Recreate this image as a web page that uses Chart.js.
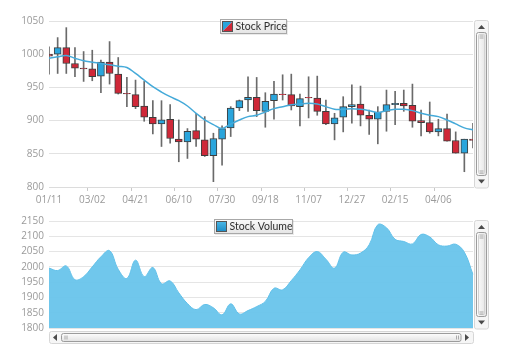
<!DOCTYPE html>
<html><head><meta charset="utf-8">
<script src="https://cdn.jsdelivr.net/npm/chart.js@4.4.0/dist/chart.umd.min.js"></script>
<style>
html,body{margin:0;padding:0;background:#fff;overflow:hidden;width:507px;height:355px}
#c1{position:absolute;left:0;top:0}
#c2{position:absolute;left:0;top:200px}
</style></head><body>
<canvas id="c1" width="507" height="210"></canvas>
<canvas id="c2" width="507" height="155"></canvas>
<script>
// ---- data ----
const dates = ['01/11','01/21','01/31','02/10','02/20','03/02','03/12','03/22','04/01','04/11',
  '04/21','05/01','05/11','05/21','05/31','06/10','06/20','06/30','07/10','07/20',
  '07/30','08/09','08/19','08/29','09/08','09/18','09/28','10/08','10/18','10/28',
  '11/07','11/17','11/27','12/07','12/17','12/27','01/06','01/16','01/26','02/05',
  '02/15','02/25','03/07','03/17','03/27','04/06','04/16','04/26','05/06','05/16'];
const openP  = [1000,1000,1010,986,979,978,967,988,970,941, 939,922,905,895,902,872,868,885,871,847,
  872,889,919,931,935,914,930,940,939,921, 935,934,914,895,905,921,925,908,902,914,
  924,926,923,900,897,883,888,870,851,872];
const closeP = [997,1010,986,979,978,966,988,971,941,940, 921,905,895,901,873,868,884,872,847,873,
  888,919,930,935,915,929,940,939,922,933, 934,914,895,904,921,924,908,902,913,924,
  926,922,899,897,883,888,869,851,872,870];
const highP  = [1011,1025,1040,1010,1004,1006,991,1019,995,965, 961,959,930,930,924,901,888,911,906,881,
  892,921,931,966,965,942,959,969,970,940, 966,967,931,911,936,954,952,916,921,946,
  944,946,955,916,928,902,910,883,872,896];
const lowP   = [970,971,971,966,959,960,942,955,940,921, 918,899,880,861,866,838,843,861,846,808,
  833,876,915,914,906,890,902,931,916,892, 904,908,894,871,883,896,892,879,865,884,
  894,914,890,877,881,877,869,851,823,859];
const maP    = [994,996,998,994,990,988,986,984,982,980, 971,961,951,943,936,930,922,911,901,894,
  888,895,901,906,908,913,918,921,924,925, 926,925,921,917,917,918,917,915,912,915,
  917,917,915,911,908,906,901,895,889,886];
const volume = [1996,1988,2003,1958,1968,2000,2033,2053,1992,1962, 2022,1968,1998,1945,1954,1915,1880,1860,1877,1866,
  1843,1879,1846,1857,1870,1887,1930,1925,1955,1990, 2030,2050,2025,1996,2048,2039,2045,2072,2138,2128,
  2090,2083,2075,2106,2098,2072,2068,2074,2048,1975];
const priceTicks = {min:800, max:1050, step:50};
const volTicks = {min:1800, max:2150, step:50};

// ---- styling helpers ----
const UP = '#2aa5dc', DOWN = '#cf2838';
const FONT = {family:'"Open Sans", sans-serif', size:10};
const TICK_COLOR = '#9a9a9a';

function legendPlugin(o){
  return {id:'boxLegend', afterDraw(chart){
    const ctx = chart.ctx; ctx.save();
    const {x,y,w,h} = o;
    ctx.fillStyle='rgba(0,0,0,0.08)'; ctx.fillRect(x+1,y+1,w+1,h+1);
    const g = ctx.createLinearGradient(0,y,0,y+h);
    g.addColorStop(0,'#fbfbfb'); g.addColorStop(1,'#e6e6e6');
    ctx.fillStyle=g; ctx.fillRect(x+0.5,y+0.5,w,h);
    ctx.strokeStyle='#a8a8a8'; ctx.lineWidth=1; ctx.strokeRect(x+0.5,y+0.5,w,h);
    const ix=x+2.5, iy=y+2.5, s=h-4;
    if(o.split){
      ctx.fillStyle=UP; ctx.beginPath(); ctx.moveTo(ix,iy); ctx.lineTo(ix+s,iy); ctx.lineTo(ix,iy+s); ctx.closePath(); ctx.fill();
      ctx.fillStyle=DOWN; ctx.beginPath(); ctx.moveTo(ix+s,iy); ctx.lineTo(ix+s,iy+s); ctx.lineTo(ix,iy+s); ctx.closePath(); ctx.fill();
    } else {
      const gi = ctx.createLinearGradient(0,iy,0,iy+s);
      gi.addColorStop(0,'#4bb7e6'); gi.addColorStop(1,'#1c8cc6');
      ctx.fillStyle=gi; ctx.fillRect(ix,iy,s,s);
    }
    ctx.strokeStyle='#555'; ctx.strokeRect(ix,iy,s,s);
    ctx.fillStyle='#2e2e2e'; ctx.font='10.5px Lato, sans-serif';
    ctx.textBaseline='middle'; ctx.textAlign='left';
    ctx.fillText(o.text, ix+s+3, y+h/2+1);
    ctx.restore();
  }};
}

function rrect(ctx,x,y,w,h,r){ctx.beginPath();ctx.roundRect(x,y,w,h,r);}
function tri(ctx,cx,cy,dir){
  ctx.beginPath();
  if(dir==='up'){ctx.moveTo(cx-3.5,cy+2);ctx.lineTo(cx+3.5,cy+2);ctx.lineTo(cx,cy-2);}
  else if(dir==='down'){ctx.moveTo(cx-3.5,cy-2);ctx.lineTo(cx+3.5,cy-2);ctx.lineTo(cx,cy+2);}
  else if(dir==='left'){ctx.moveTo(cx+2,cy-3.5);ctx.lineTo(cx+2,cy+3.5);ctx.lineTo(cx-2,cy);}
  else {ctx.moveTo(cx-2,cy-3.5);ctx.lineTo(cx-2,cy+3.5);ctx.lineTo(cx+2,cy);}
  ctx.closePath(); ctx.fillStyle='#4a4a4a'; ctx.fill();
}
function vScroll(ctx, x, top, bottom){
  rrect(ctx,x+0.5,top+0.5,14,bottom-top,2);
  ctx.fillStyle='#f6f6f6'; ctx.fill(); ctx.strokeStyle='#d6d6d6'; ctx.stroke();
  tri(ctx,x+7.5,top+7,'up'); tri(ctx,x+7.5,bottom-6,'down');
  const t1=top+12.5, t2=bottom-12;
  const g=ctx.createLinearGradient(x+2,0,x+12,0); g.addColorStop(0,'#ffffff'); g.addColorStop(1,'#e4e4e4');
  rrect(ctx,x+2.5,t1,10,t2-t1,2); ctx.fillStyle=g; ctx.fill(); ctx.strokeStyle='#9c9c9c'; ctx.stroke();
  rrect(ctx,x+4.5,t1+2,6,t2-t1-4,1); ctx.strokeStyle='#d2d2d2'; ctx.stroke();
  ctx.strokeStyle='#aaa';
  [t1+3,t1+5,t2-5,t2-3].forEach(yy=>{ctx.beginPath();ctx.moveTo(x+5.5,yy+0.5);ctx.lineTo(x+9.5,yy+0.5);ctx.stroke();});
}
function hScroll(ctx, left, right, top){
  const h=11;
  rrect(ctx,left+0.5,top+0.5,right-left,h+1,2);
  ctx.fillStyle='#f6f6f6'; ctx.fill(); ctx.strokeStyle='#d6d6d6'; ctx.stroke();
  tri(ctx,left+6,top+6.5,'left'); tri(ctx,right-6,top+6.5,'right');
  const t1=left+12.5, t2=right-12;
  const g=ctx.createLinearGradient(0,top+2,0,top+10); g.addColorStop(0,'#ffffff'); g.addColorStop(1,'#e4e4e4');
  rrect(ctx,t1,top+2.5,t2-t1,8,2); ctx.fillStyle=g; ctx.fill(); ctx.strokeStyle='#9c9c9c'; ctx.stroke();
  ctx.strokeStyle='#aaa';
  [t1+3,t1+5,t2-5,t2-3].forEach(xx=>{ctx.beginPath();ctx.moveTo(xx+0.5,top+4.5);ctx.lineTo(xx+0.5,top+8.5);ctx.stroke();});
}
const scrollPlugin = (withH)=>({id:'scrolls', afterDraw(chart){
  const ctx=chart.ctx, a=chart.chartArea; ctx.save(); ctx.lineWidth=1;
  vScroll(ctx, a.right+1, a.top-1, a.bottom+0.5);
  if(withH) hScroll(ctx, a.left, a.right, a.bottom+3);
  ctx.restore();
}});
const plainNum = (v)=> String(v);

// ---- price chart ----
const bodyColors = closeP.map((c,i)=> c>openP[i] ? UP : DOWN);
new Chart(document.getElementById('c1'), {
  type:'bar',
  data:{labels:dates, datasets:[
    {type:'line', label:'MA', data:maP, borderColor:'#45aad9', borderWidth:1.5, pointRadius:0, tension:0.35, order:0},
    {label:'Stock Price', data:openP.map((o,i)=>[o,closeP[i]]), backgroundColor:bodyColors,
      borderColor:'#3d3d3d', borderWidth:1, borderSkipped:false, barThickness:7, grouped:false, clip:0, order:1},
    {label:'Range', data:lowP.map((l,i)=>[l,highP[i]]), backgroundColor:'#6a6a6a',
      barThickness:1, grouped:false, clip:0, order:2}
  ]},
  options:{
    responsive:false, animation:false, events:[],
    layout:{padding:{left:0,right:34,top:21,bottom:0}},
    plugins:{legend:{display:false}, tooltip:{enabled:false}},
    scales:{
      x:{offset:false,
        grid:{drawOnChartArea:false, tickLength:4, tickColor:(c)=> c.index%5===0 ? '#c8c8c8' : 'rgba(0,0,0,0)'},
        border:{color:'#dcdcdc'},
        ticks:{autoSkip:false, maxRotation:0, color:TICK_COLOR, font:FONT, padding:3,
          callback:(v,i)=> i%5===0 ? dates[i] : ''},
        afterFit:(s)=>{s.height=23;}},
      y:{min:priceTicks.min, max:priceTicks.max,
        ticks:{stepSize:priceTicks.step, color:TICK_COLOR, font:FONT, padding:5, callback:plainNum},
        grid:{color:'#e2e2e2', drawTicks:false}, border:{display:false},
        afterFit:(s)=>{s.width=49;}}
    }
  },
  plugins:[scrollPlugin(false), legendPlugin({x:220,y:19,w:66,h:14,split:true,text:'Stock Price'})]
});

// ---- volume chart ----
new Chart(document.getElementById('c2'), {
  type:'line',
  data:{labels:dates, datasets:[
    {label:'Stock Volume', data:volume, fill:'start', backgroundColor:'rgba(104,196,235,0.95)',
      borderColor:'#62c0e9', borderWidth:1, pointRadius:0, tension:0.4}
  ]},
  options:{
    responsive:false, animation:false, events:[],
    layout:{padding:{left:0,right:34,top:21,bottom:27}},
    plugins:{legend:{display:false}, tooltip:{enabled:false}},
    scales:{
      x:{display:false, offset:false},
      y:{min:volTicks.min, max:volTicks.max, z:1,
        ticks:{stepSize:volTicks.step, color:TICK_COLOR, font:FONT, padding:5, callback:plainNum},
        grid:{color:'rgba(0,0,0,0.1)', drawTicks:false}, border:{display:false},
        afterFit:(s)=>{s.width=49;}}
    }
  },
  plugins:[scrollPlugin(true), legendPlugin({x:214,y:19,w:78,h:14,split:false,text:'Stock Volume'})]
});
</script>
</body></html>
